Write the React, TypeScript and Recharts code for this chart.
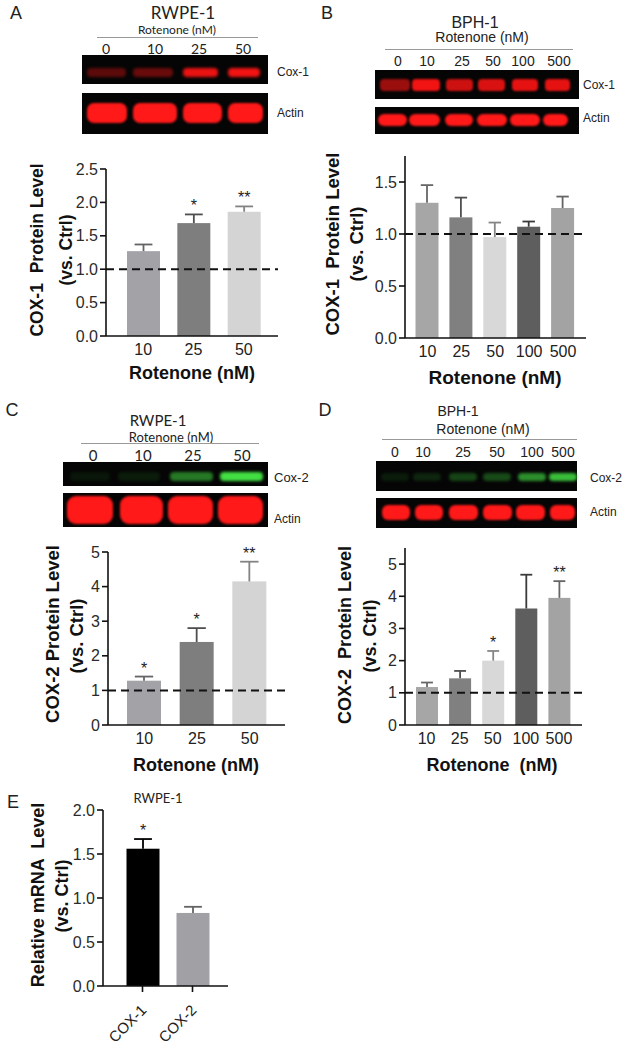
import React from "react";
import { BarChart, Bar, XAxis, YAxis, ReferenceLine, Cell } from "recharts";

const SANS = "'Liberation Sans', Arial, sans-serif";
const SOFT = "Lato, 'Open Sans', sans-serif";

// A: RWPE-1, COX-1 protein vs rotenone
const dosesA = ["10", "25", "50"];
const cox1RwpeMean = [1.27, 1.69, 1.86];
const cox1RwpeSem = [0.1, 0.13, 0.08];
const cox1RwpeSig = ["", "*", "**"];

// B: BPH-1, COX-1 protein
const dosesB = ["10", "25", "50", "100", "500"];
const cox1BphMean = [1.3, 1.16, 0.97, 1.07, 1.25];
const cox1BphSem = [0.17, 0.19, 0.14, 0.05, 0.11];
const cox1BphSig = ["", "", "", "", ""];

// C: RWPE-1, COX-2 protein
const cox2RwpeMean = [1.28, 2.4, 4.15];
const cox2RwpeSem = [0.12, 0.4, 0.57];
const cox2RwpeSig = ["*", "*", "**"];

// D: BPH-1, COX-2 protein
const cox2BphMean = [1.18, 1.45, 2.0, 3.62, 3.95];
const cox2BphSem = [0.14, 0.23, 0.3, 1.05, 0.52];
const cox2BphSig = ["", "", "*", "", "**"];

// E: RWPE-1 mRNA
const genesE = ["COX-1", "COX-2"];
const mrnaMean = [1.56, 0.83];
const mrnaSem = [0.11, 0.07];
const mrnaSig = ["*", ""];

// blot lanes + band intensity (0..1)
const lanesRwpe = ["0", "10", "25", "50"];
const lanesBph = ["0", "10", "25", "50", "100", "500"];
const cox1RwpeBand = [0.35, 0.4, 0.92, 0.95];
const cox1BphBand = [0.6, 0.95, 0.8, 0.85, 0.9, 0.9];
const cox2RwpeBand = [0.08, 0.1, 0.5, 0.95];
const cox2BphBand = [0.1, 0.14, 0.28, 0.3, 0.6, 0.8];
const actinRwpeBand = [1, 1, 1, 1];
const actinBphBand = [1, 1, 1, 1, 1, 1];

const colorsA = ["#a2a2a7", "#7e7e7e", "#d4d4d4"];
const colorsB = ["#a6a6a6", "#808080", "#d8d8d8", "#5e5e5e", "#a3a3a3"];
const colorsE = ["#000000", "#a0a0a5"];

function shade(hex: string, f: number) {
  const n = parseInt(hex.slice(1), 16);
  const r = Math.round(((n >> 16) & 255) * f);
  const g = Math.round(((n >> 8) & 255) * f);
  const b = Math.round((n & 255) * f);
  return `rgb(${r},${g},${b})`;
}

function Txt({ x, y, children, size = 14, bold = false, family = SANS, color = "#222", anchor = "middle" }: any) {
  const tx = anchor === "start" ? "0" : "-50%";
  return (
    <div
      style={{
        position: "absolute", left: x, top: y, fontSize: size, fontWeight: bold ? 700 : 400,
        fontFamily: family, color, lineHeight: 1, whiteSpace: "pre",
        transform: `translate(${tx}, -50%)`,
      }}
    >
      {children}
    </div>
  );
}

function RotLabel({ x, y, text, size = 18 }: any) {
  return (
    <div
      style={{
        position: "absolute", left: x, top: y, fontSize: size, fontWeight: 700, fontFamily: SANS,
        color: "#111", lineHeight: 1, whiteSpace: "pre", transform: "translate(-50%, -50%) rotate(-90deg)",
      }}
    >
      {text}
    </div>
  );
}

// western blot strip, purely decorative
function Blot({ left, right, top, bottom, lanes, level, rgb, bandY, bandH, radius, blur }: any) {
  return (
    <div style={{ position: "absolute", left, top, width: right - left, height: bottom - top, background: "#050505" }}>
      {lanes.map((ln: number[], i: number) => (
        <div
          key={i}
          style={{
            position: "absolute", left: ln[0] - left, width: ln[1] - ln[0], top: bandY - top - bandH / 2, height: bandH,
            background: `rgba(${rgb},${level[i]})`, borderRadius: radius, filter: `blur(${blur}px)`,
          }}
        />
      ))}
    </div>
  );
}

function BarShape(props: any) {
  const { x, y, width, height, payload, fill } = props;
  if (!payload || !height) return null;
  const ppu = height / payload.value;
  const top = y - payload.err * ppu;
  const cx = x + width / 2;
  const cap = width * 0.27;
  const st = fill === "#000000" ? "#000" : shade(fill, 0.62);
  return (
    <g>
      <rect x={x} y={y} width={width} height={height} fill={fill} />
      <line x1={cx} x2={cx} y1={y} y2={top} stroke={st} strokeWidth={1.8} />
      <line x1={cx - cap} x2={cx + cap} y1={top} y2={top} stroke={st} strokeWidth={1.8} />
      {payload.sig ? (
        <text x={cx} y={top - 3} textAnchor="middle" fontSize={16} fontFamily={SANS} fill="#222">
          {payload.sig}
        </text>
      ) : null}
    </g>
  );
}

function RotTick(props: any) {
  const { x, y, payload } = props;
  return (
    <text x={x + 5} y={y + 17} transform={`rotate(-45 ${x + 5} ${y + 17})`} textAnchor="end" fontSize={15} fontFamily={SANS} fill="#222">
      {payload.value}
    </text>
  );
}

function Panel({ cats, mean, sem, sig, colors, plot, yMax, ticks, decimals, pad, barSize, refLine = true, rotated = false }: any) {
  const L = plot.x0 - 70;
  const T = plot.y0 - 30;
  const W = plot.x1 - L + 20;
  const bottom = rotated ? 70 : 40;
  const H = plot.y1 - plot.y0 + 30 + bottom;
  const data = cats.map((c: string, i: number) => ({ cat: c, value: mean[i], err: sem[i], sig: sig[i] }));
  return (
    <div style={{ position: "absolute", left: L, top: T }}>
      <BarChart width={W} height={H} data={data} margin={{ top: 30, right: 20, bottom: 0, left: 0 }} style={{ overflow: "visible" }}>
        <XAxis
          dataKey="cat"
          height={bottom}
          interval={0}
          padding={{ left: pad[0], right: pad[1] }}
          axisLine={{ stroke: "#111", strokeWidth: 1.6 }}
          tickLine={rotated ? { stroke: "#111", strokeWidth: 1.6 } : false}
          tickSize={6}
          tick={rotated ? <RotTick /> : { fill: "#222", fontSize: 16, fontFamily: SANS }}
        />
        <YAxis
          width={70}
          domain={[0, yMax]}
          ticks={ticks}
          interval={0}
          tickFormatter={(v: number) => v.toFixed(decimals)}
          axisLine={{ stroke: "#111", strokeWidth: 1.6 }}
          tickLine={{ stroke: "#111", strokeWidth: 1.6 }}
          tickSize={6}
          tick={{ fill: "#2b2b2b", fontSize: 16, fontFamily: SANS }}
        />
        <Bar dataKey="value" barSize={barSize} isAnimationActive={false} shape={BarShape}>
          {colors.map((c: string, i: number) => (
            <Cell key={i} fill={c} />
          ))}
        </Bar>
        {refLine ? <ReferenceLine y={1} stroke="#111" strokeWidth={2} strokeDasharray="8 5" /> : null}
      </BarChart>
    </div>
  );
}

const rwpeCox1Lanes = [[87, 126], [133, 173], [183, 218], [228, 260]];
const rwpeActinLanesA = [[87, 127], [133, 177], [183, 222], [228, 263]];
const bphCox1Lanes = [[380, 410], [412, 440], [446, 473], [478, 505], [512, 538], [545, 570]];
const bphActinLanesB = [[378, 407], [409, 440], [445, 473], [477, 507], [510, 540], [543, 568]];
const rwpeCox2Lanes = [[70, 110], [118, 160], [170, 213], [220, 263]];
const rwpeActinLanesC = [[67, 113], [120, 163], [168, 213], [218, 263]];
const bphCox2Lanes = [[381, 409], [413, 441], [449, 477], [483, 511], [518, 546], [549, 577]];
const bphActinLanesD = [[382, 410], [415, 443], [449, 478], [483, 512], [516, 545], [550, 575]];

export default function App() {
  return (
    <div style={{ position: "absolute", left: 0, top: 0, width: 628, height: 1047, background: "#fff", overflow: "hidden" }}>
      {/* ---------- A ---------- */}
      <Txt x={16} y={13} size={18}>A</Txt>
      <Txt x={183} y={12} size={17} family={SOFT}>RWPE-1</Txt>
      <Txt x={177} y={30} size={12} family={SOFT}>Rotenone (nM)</Txt>
      <div style={{ position: "absolute", left: 97, top: 37, width: 161, height: 1, background: "#999" }} />
      {lanesRwpe.map((l, i) => (
        <Txt key={l} x={[106, 155, 199, 243][i]} y={49} size={14} family={SOFT}>{l}</Txt>
      ))}
      <Blot left={82} right={268} top={55} bottom={84} lanes={rwpeCox1Lanes} level={cox1RwpeBand} rgb="255,20,20" bandY={72} bandH={9} radius={4} blur={1.5} />
      <Blot left={82} right={268} top={93} bottom={134} lanes={rwpeActinLanesA} level={actinRwpeBand} rgb="255,25,25" bandY={113} bandH={20} radius={7} blur={1} />
      <Txt x={277} y={72} size={12} anchor="start">Cox-1</Txt>
      <Txt x={277} y={113} size={12} anchor="start">Actin</Txt>
      <Panel cats={dosesA} mean={cox1RwpeMean} sem={cox1RwpeSem} sig={cox1RwpeSig} colors={colorsA}
        plot={{ x0: 106, x1: 278, y0: 169, y1: 336 }} yMax={2.5} ticks={[0, 0.5, 1, 1.5, 2, 2.5]} decimals={1}
        pad={[12, 9]} barSize={33} />
      <RotLabel x={38} y={250} size={17.5} text="COX-1  Protein Level" />
      <RotLabel x={67} y={250} size={17.5} text="(vs. Ctrl)" />
      <Txt x={192} y={373} size={18} bold color="#111">Rotenone (nM)</Txt>

      {/* ---------- B ---------- */}
      <Txt x={327} y={13} size={18}>B</Txt>
      <Txt x={475} y={23} size={16}>BPH-1</Txt>
      <Txt x={482} y={37} size={14}>Rotenone (nM)</Txt>
      <div style={{ position: "absolute", left: 385, top: 49, width: 188, height: 1, background: "#999" }} />
      {lanesBph.map((l, i) => (
        <Txt key={l} x={[398, 427, 462, 493, 523, 559][i]} y={61} size={14}>{l}</Txt>
      ))}
      <Blot left={375} right={579} top={70} bottom={99} lanes={bphCox1Lanes} level={cox1BphBand} rgb="255,20,20" bandY={85} bandH={12} radius={4} blur={1} />
      <Blot left={375} right={579} top={107} bottom={134} lanes={bphActinLanesB} level={actinBphBand} rgb="255,25,25" bandY={120} bandH={12} radius={6} blur={0.8} />
      <Txt x={583} y={85} size={12} anchor="start">Cox-1</Txt>
      <Txt x={583} y={118} size={12} anchor="start">Actin</Txt>
      <Panel cats={dosesB} mean={cox1BphMean} sem={cox1BphSem} sig={cox1BphSig} colors={colorsB}
        plot={{ x0: 405, x1: 586, y0: 156, y1: 338 }} yMax={1.75} ticks={[0, 0.5, 1, 1.5]} decimals={1}
        pad={[5.5, 6]} barSize={23} />
      <RotLabel x={333} y={244} size={18.5} text="COX-1  Protein Level" />
      <RotLabel x={357} y={244} size={18.5} text="(vs. Ctrl)" />
      <Txt x={495} y={377} size={19} bold color="#111">Rotenone (nM)</Txt>

      {/* ---------- C ---------- */}
      <Txt x={12} y={410} size={18}>C</Txt>
      <Txt x={158} y={420} size={15} family={SOFT}>RWPE-1</Txt>
      <Txt x={171} y={437} size={13} family={SOFT}>Rotenone (nM)</Txt>
      <div style={{ position: "absolute", left: 81, top: 443, width: 178, height: 1, background: "#999" }} />
      {lanesRwpe.map((l, i) => (
        <Txt key={l} x={[93, 143, 193, 242][i]} y={455} size={15} family={SOFT}>{l}</Txt>
      ))}
      <Blot left={63} right={268} top={462} bottom={486} lanes={rwpeCox2Lanes} level={cox2RwpeBand} rgb="70,235,70" bandY={476} bandH={9} radius={4} blur={1.5} />
      <Blot left={63} right={268} top={493} bottom={527} lanes={rwpeActinLanesC} level={actinRwpeBand} rgb="255,25,25" bandY={510} bandH={28} radius={9} blur={0.8} />
      <Txt x={274} y={477} size={13} anchor="start">Cox-2</Txt>
      <Txt x={274} y={519} size={12} anchor="start">Actin</Txt>
      <Panel cats={dosesA} mean={cox2RwpeMean} sem={cox2RwpeSem} sig={cox2RwpeSig} colors={colorsA}
        plot={{ x0: 108, x1: 285, y0: 552, y1: 725 }} yMax={5} ticks={[0, 1, 2, 3, 4, 5]} decimals={0}
        pad={[10, 9]} barSize={34} />
      <RotLabel x={53} y={634} size={18.5} text="COX-2 Protein Level" />
      <RotLabel x={77} y={636} size={18.5} text="(vs. Ctrl)" />
      <Txt x={196} y={765} size={18} bold color="#111">Rotenone (nM)</Txt>

      {/* ---------- D ---------- */}
      <Txt x={325} y={410} size={18}>D</Txt>
      <Txt x={458} y={411} size={14}>BPH-1</Txt>
      <Txt x={483} y={429} size={14}>Rotenone (nM)</Txt>
      <div style={{ position: "absolute", left: 382, top: 439, width: 195, height: 1, background: "#999" }} />
      {lanesBph.map((l, i) => (
        <Txt key={l} x={[395, 423, 463, 497, 532, 563][i]} y={452} size={14}>{l}</Txt>
      ))}
      <Blot left={376} right={577} top={461} bottom={491} lanes={bphCox2Lanes} level={cox2BphBand} rgb="70,235,70" bandY={477} bandH={8} radius={4} blur={1.5} />
      <Blot left={376} right={577} top={498} bottom={528} lanes={bphActinLanesD} level={actinBphBand} rgb="255,25,25" bandY={512} bandH={15} radius={6} blur={0.8} />
      <Txt x={590} y={478} size={12} anchor="start">Cox-2</Txt>
      <Txt x={590} y={512} size={12} anchor="start">Actin</Txt>
      <Panel cats={dosesB} mean={cox2BphMean} sem={cox2BphSem} sig={cox2BphSig} colors={colorsB}
        plot={{ x0: 405, x1: 582, y0: 548, y1: 725 }} yMax={5.5} ticks={[0, 1, 2, 3, 4, 5]} decimals={0}
        pad={[5, 6.5]} barSize={22} />
      <RotLabel x={345} y={635} size={18} text="COX-2  Protein Level" />
      <RotLabel x={370} y={636} size={18} text="(vs. Ctrl)" />
      <Txt x={492} y={765} size={18} bold color="#111">Rotenone  (nM)</Txt>

      {/* ---------- E ---------- */}
      <Txt x={13} y={802} size={18}>E</Txt>
      <Txt x={158} y={798} size={13} family={SOFT}>RWPE-1</Txt>
      <Panel cats={genesE} mean={mrnaMean} sem={mrnaSem} sig={mrnaSig} colors={colorsE}
        plot={{ x0: 103, x1: 228, y0: 810, y1: 986 }} yMax={2} ticks={[0, 0.5, 1, 1.5, 2]} decimals={1}
        pad={[14.5, 10.5]} barSize={33} refLine={false} rotated />
      <RotLabel x={38} y={895} text="Relative mRNA  Level" />
      <RotLabel x={62} y={896} text="(vs. Ctrl)" />
    </div>
  );
}
